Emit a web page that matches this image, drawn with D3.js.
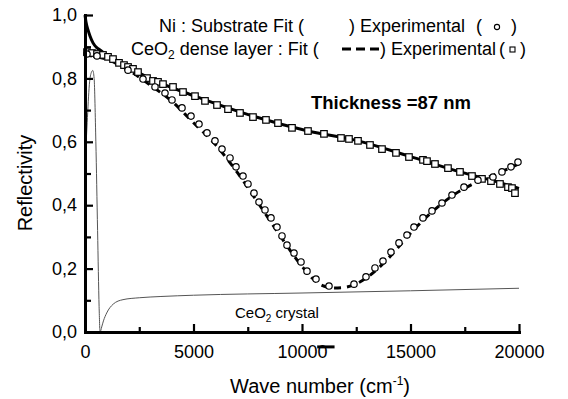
<!DOCTYPE html>
<html><head><meta charset="utf-8">
<script src="https://cdn.jsdelivr.net/npm/d3@7/dist/d3.min.js"></script>
<style>
body{margin:0;background:#fff;}
svg{display:block;font-family:"Liberation Sans",Arial,sans-serif;}
</style></head>
<body><svg id="chart" width="568" height="399"></svg>
<script>
// ---- data (wave number cm-1, reflectivity) ----
const squaresWn = [92,323,553,829,1060,1290,1567,1797,1982,2212,2442,2857,3134,3364,3594,4055,4516,5069,5530,6083,6590,7142,7741,8340,8893,9539,10276,11013,11797,12165,12580,13133,13686,14331,14930,15575,15760,16128,16727,17280,17833,18294,18709,19123,19492,19676,19815];
const squaresR  = [0.883,0.880,0.877,0.874,0.868,0.861,0.849,0.842,0.836,0.830,0.820,0.801,0.792,0.789,0.782,0.773,0.757,0.744,0.729,0.716,0.703,0.691,0.678,0.669,0.659,0.644,0.634,0.625,0.612,0.609,0.603,0.590,0.577,0.565,0.552,0.543,0.539,0.530,0.517,0.505,0.492,0.483,0.476,0.467,0.457,0.454,0.438];

const solidFitWn = [0,46,138,230,369,553,691,922,1152,1613,2857,5069,7741,10276,12580,14930,17280,18709,20000];
const solidFitR  = [1.0,0.978,0.953,0.934,0.912,0.896,0.890,0.877,0.868,0.852,0.804,0.744,0.681,0.634,0.603,0.555,0.505,0.479,0.453];

const circlesWn = [92,553,1982,2673,3226,3686,4009,4470,4885,5253,5622,5990,6313,6682,6958,7281,7511,7788,8018,8294,8571,8847,9078,9308,9631,9954,10230,10645,11244,12396,12949,13363,13732,14100,14469,14838,15160,15575,15990,16451,16911,17464,18109,18801,19215,19630,19953];
const circlesR  = [0.877,0.871,0.826,0.798,0.773,0.754,0.732,0.707,0.681,0.656,0.628,0.603,0.577,0.549,0.521,0.492,0.467,0.438,0.410,0.385,0.360,0.331,0.303,0.274,0.249,0.221,0.192,0.167,0.145,0.151,0.174,0.202,0.224,0.252,0.281,0.306,0.331,0.360,0.382,0.407,0.432,0.457,0.479,0.489,0.505,0.521,0.536];

const dashFitWn = [0,1000,2000,3000,4000,5000,6000,7000,8000,9000,10000,10500,11000,11500,12000,12500,13000,14000,15000,16000,17000,18000,19000,20000];
const dashFitR  = [0.874,0.86,0.826,0.779,0.728,0.66,0.592,0.505,0.405,0.303,0.207,0.168,0.145,0.139,0.141,0.152,0.172,0.234,0.312,0.379,0.433,0.471,0.5,0.531];

const crystalWn = [0,100,200,300,360,420,500,580,650,695,770,850,1000,1300,1750,2500,3500,5000,10000,15000,20000];
const crystalR  = [0.52,0.66,0.78,0.82,0.825,0.80,0.60,0.32,0.08,0.0,0.016,0.035,0.06,0.088,0.102,0.108,0.112,0.116,0.123,0.130,0.138];

const straySampleWn = [10700,11500];
const straySampleR = -0.047;

const xMajorTicks = [0,5000,10000,15000,20000];
const xMinorTicks = [2500,7500,12500,17500];
const yMajorTicks = [0,0.2,0.4,0.6,0.8,1.0];
const yMinorTicks = [0.1,0.3,0.5,0.7,0.9];

// ---- drawing ----
const svg = d3.select("#chart");
const x = d3.scaleLinear().domain([0,20000]).range([85,519]);
const y = d3.scaleLinear().domain([0,1]).range([332,15]);
const zip = (a,b)=>a.map((v,i)=>[v,b[i]]);
const line = d3.line().x(d=>x(d[0])).y(d=>y(d[1])).curve(d3.curveMonotoneX);

// crystal thin line
svg.append("path").attr("d", line(zip(crystalWn,crystalR)))
  .attr("fill","none").attr("stroke","#555").attr("stroke-width",1);

// solid fit
svg.append("path").attr("d", line(zip(solidFitWn,solidFitR)))
  .attr("fill","none").attr("stroke","#000").attr("stroke-width",3);

// dashed fit
svg.append("path").attr("d", line(zip(dashFitWn,dashFitR)))
  .attr("fill","none").attr("stroke","#000").attr("stroke-width",3)
  .attr("stroke-dasharray","7,6");

// stray segment
svg.append("line").attr("x1",x(straySampleWn[0])).attr("x2",x(straySampleWn[1]))
  .attr("y1",y(straySampleR)).attr("y2",y(straySampleR))
  .attr("stroke","#000").attr("stroke-width",3);

// squares
const sq = 6.5;
svg.append("g").selectAll("rect").data(zip(squaresWn,squaresR)).join("rect")
  .attr("x",d=>x(d[0])-sq/2).attr("y",d=>y(d[1])-sq/2)
  .attr("width",sq).attr("height",sq)
  .attr("fill","#fff").attr("stroke","#000").attr("stroke-width",1.2);

// circles
svg.append("g").selectAll("circle").data(zip(circlesWn,circlesR)).join("circle")
  .attr("cx",d=>x(d[0])).attr("cy",d=>y(d[1])).attr("r",3.2)
  .attr("fill","#fff").attr("stroke","#000").attr("stroke-width",1.2);

// axes
const fmt = d=>d3.format(".1f")(d).replace(".",",");
const yAx = svg.append("g").attr("transform","translate(85,0)")
  .call(d3.axisLeft(y).tickValues(yMajorTicks).tickSizeInner(-8).tickSizeOuter(0).tickPadding(8).tickFormat(fmt));
const yAxMinor = svg.append("g").attr("transform","translate(85,0)")
  .call(d3.axisLeft(y).tickValues(yMinorTicks).tickSizeInner(-6).tickSizeOuter(0).tickFormat(""));
const xAx = svg.append("g").attr("transform","translate(0,332)")
  .call(d3.axisBottom(x).tickValues(xMajorTicks).tickSizeInner(-8).tickSizeOuter(0).tickPadding(13).tickFormat(d3.format("d")));
const xAxMinor = svg.append("g").attr("transform","translate(0,332)")
  .call(d3.axisBottom(x).tickValues(xMinorTicks).tickSizeInner(-5).tickSizeOuter(0).tickFormat(""));
[yAx,yAxMinor,xAx,xAxMinor].forEach(g=>{
  g.select(".domain").attr("stroke","#000").attr("stroke-width",3).attr("stroke-linecap","square");
  g.selectAll(".tick line").attr("stroke","#000").attr("stroke-width",2.2);
  g.selectAll(".tick text").attr("font-size",18).attr("fill","#000")
    .attr("font-family","'Liberation Sans',Arial,sans-serif");
});

// axis titles
const xt = svg.append("text").attr("x",320).attr("y",393).attr("text-anchor","middle").attr("font-size",20);
xt.append("tspan").text("Wave number (cm");
xt.append("tspan").attr("font-size",12).attr("dy",-8).text("-1");
xt.append("tspan").attr("dy",8).text(")");
svg.append("text").attr("transform","translate(32,183) rotate(-90)").attr("text-anchor","middle")
  .attr("font-size",20).text("Reflectivity");

// legend
const l1 = 32, l2 = 55;
svg.append("text").attr("x",159).attr("y",l1).attr("font-size",18).text("Ni : Substrate Fit (");
svg.append("text").attr("x",349).attr("y",l1).attr("font-size",18).text(") Experimental");
svg.append("text").attr("x",476).attr("y",l1).attr("font-size",18).text("(");
svg.append("text").attr("x",511).attr("y",l1).attr("font-size",18).text(")");
svg.append("circle").attr("cx",497).attr("cy",l1-5).attr("r",2.6)
  .attr("fill","#fff").attr("stroke","#000").attr("stroke-width",1.1);

const t2 = svg.append("text").attr("x",131).attr("y",l2).attr("font-size",18);
t2.append("tspan").text("CeO");
t2.append("tspan").attr("font-size",12).attr("dy",4).text("2");
t2.append("tspan").attr("dy",-4).text(" dense layer : Fit (");
svg.append("line").attr("x1",342).attr("x2",379).attr("y1",l2-6).attr("y2",l2-6)
  .attr("stroke","#000").attr("stroke-width",3).attr("stroke-dasharray","9,5");
svg.append("text").attr("x",380).attr("y",l2).attr("font-size",18).text(") Experimental");
svg.append("text").attr("x",499).attr("y",l2).attr("font-size",18).text("(");
svg.append("text").attr("x",520).attr("y",l2).attr("font-size",18).text(")");
svg.append("rect").attr("x",510).attr("y",l2-8).attr("width",5).attr("height",5)
  .attr("fill","#fff").attr("stroke","#000").attr("stroke-width",1.1);

// annotations
svg.append("text").attr("x",311).attr("y",109).attr("font-size",18.5).attr("font-weight","bold")
  .text("Thickness =87 nm");
const t3 = svg.append("text").attr("x",235).attr("y",318).attr("font-size",15);
t3.append("tspan").text("CeO");
t3.append("tspan").attr("font-size",10).attr("dy",4).text("2");
t3.append("tspan").attr("dy",-4).text(" crystal");
</script></body></html>
